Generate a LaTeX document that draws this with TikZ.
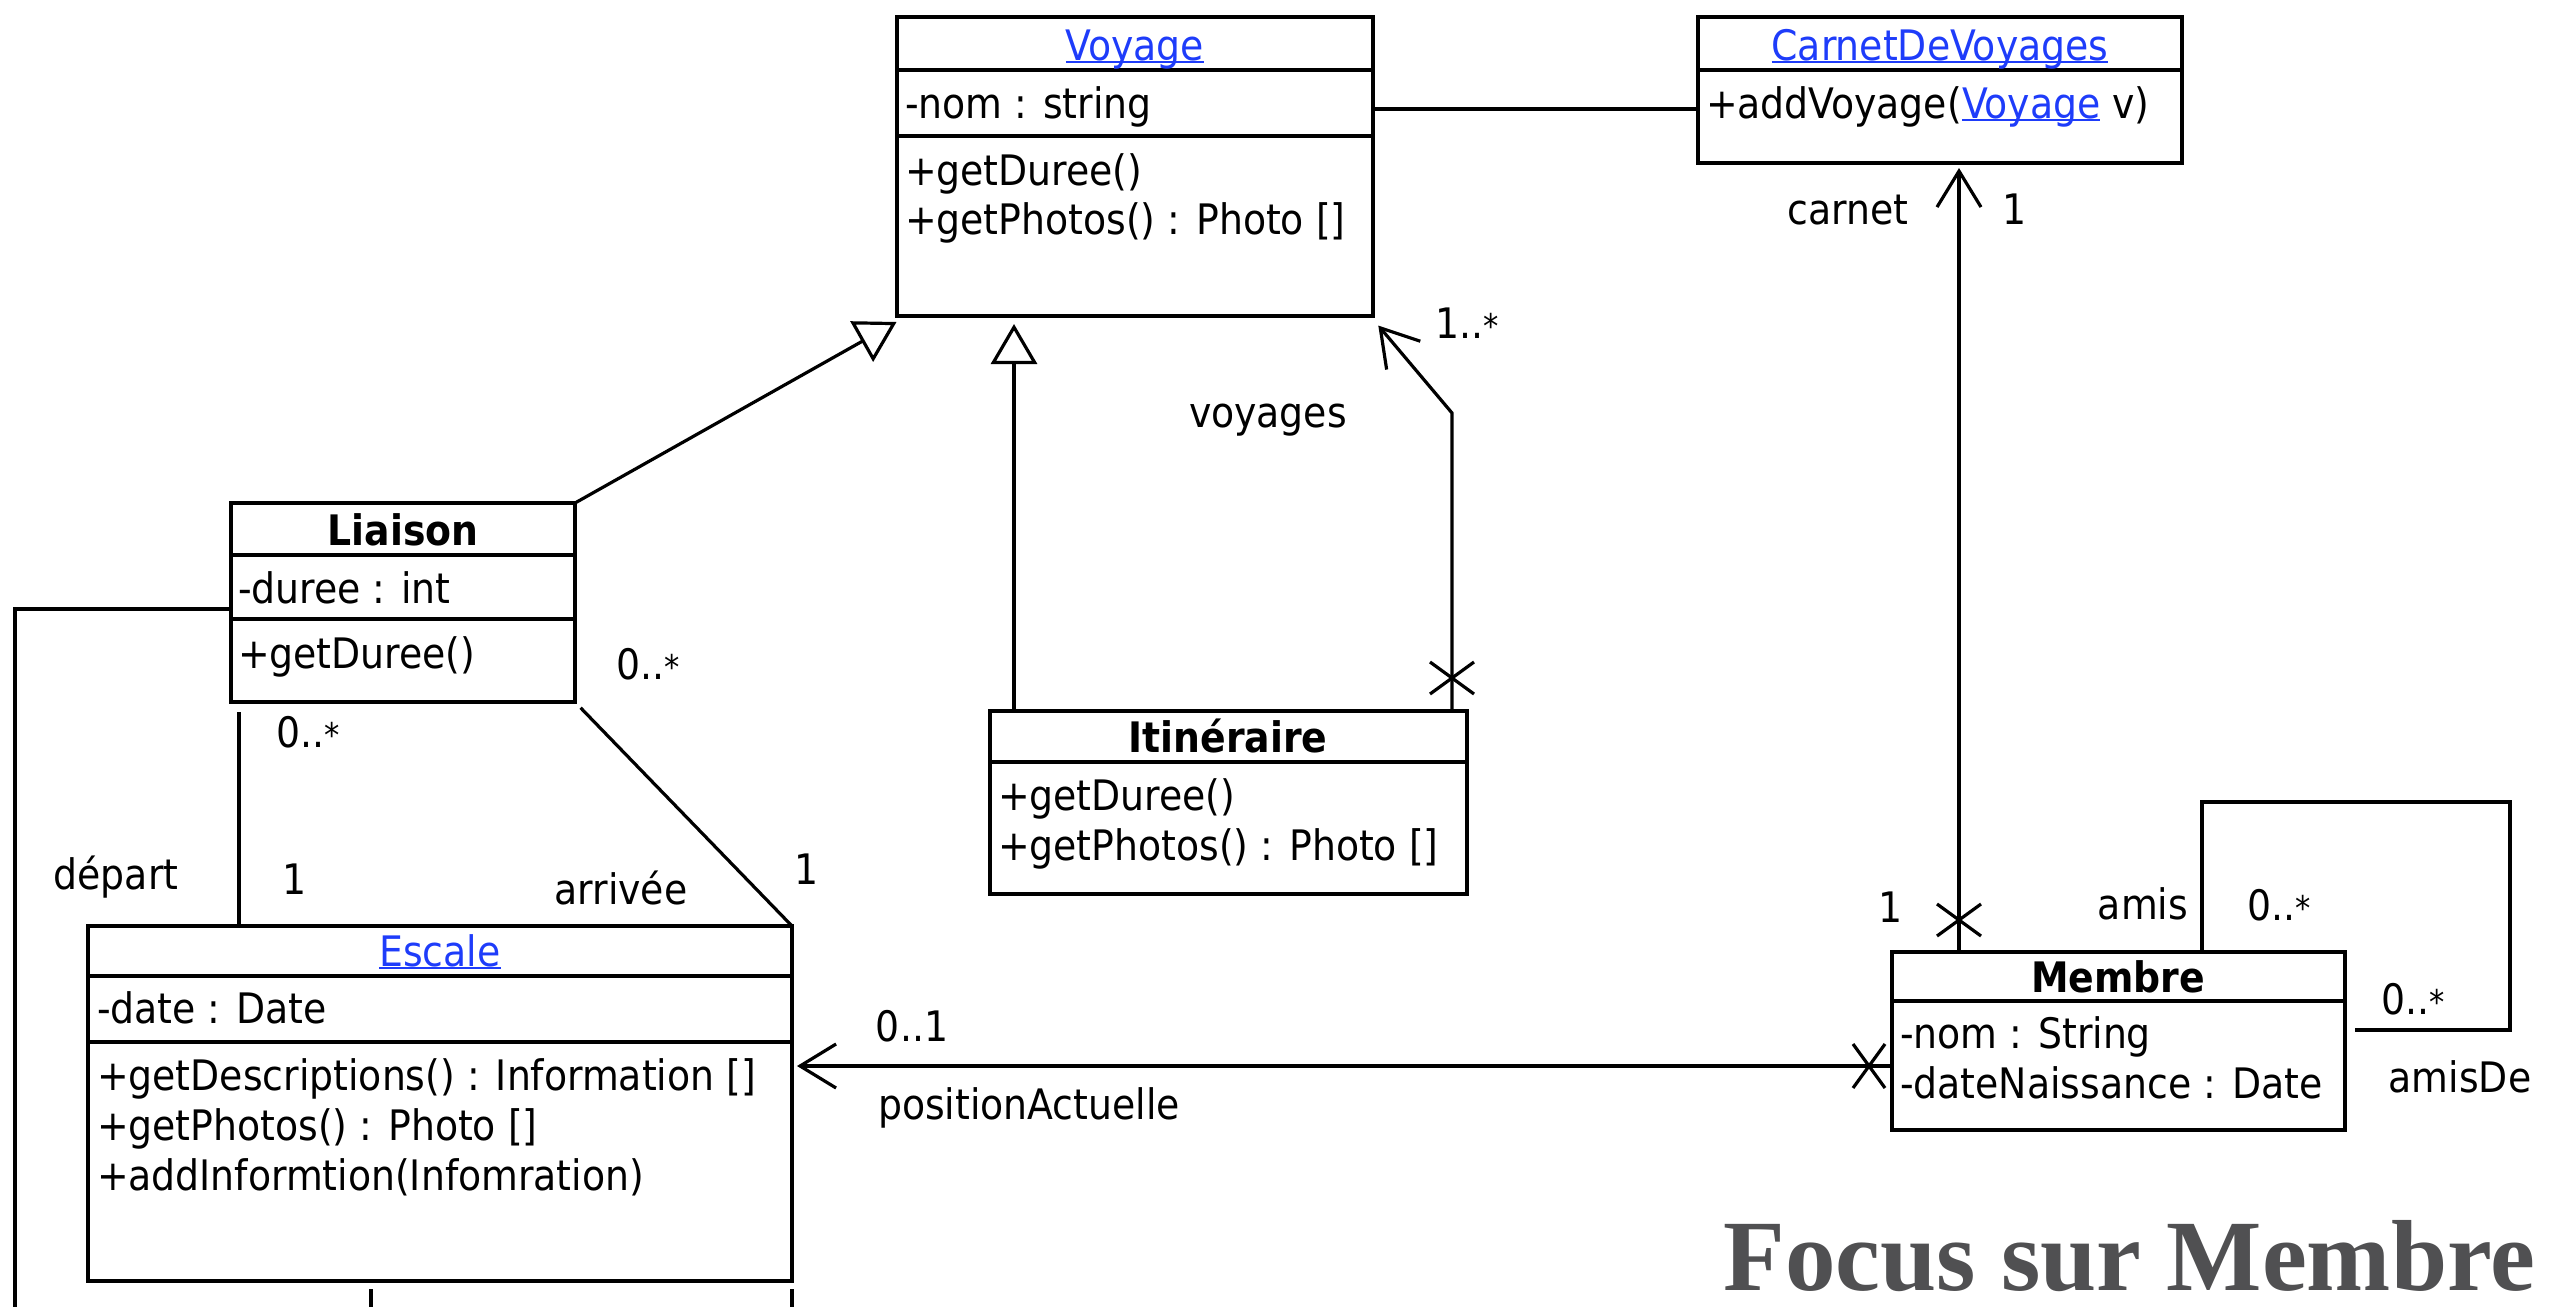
\documentclass[tikz,border=0pt]{standalone}
\usepackage{fontspec}
\setmainfont{DejaVu Sans Condensed}
\newfontfamily\titlefont{Liberation Serif}
\usetikzlibrary{arrows.meta,calc}
\definecolor{linkblue}{RGB}{30,60,250}
\definecolor{titlegray}{RGB}{80,80,82}
\newcommand{\mst}{{\fontsize{34}{34}\selectfont *}}
\newcommand{\lnk}[1]{\textcolor{linkblue}{\setbox0\hbox{#1}\rlap{\rule[-3.2pt]{\wd0}{2.4pt}}\box0}}
\begin{document}
\begin{tikzpicture}[x=1pt,y=-1pt,
  every node/.style={inner sep=0pt, outer sep=0pt},
  txt/.style={font=\fontsize{42}{48}\selectfont, anchor=base west},
  ttl/.style={font=\fontsize{42}{48}\selectfont\bfseries, anchor=base},
  lttl/.style={font=\fontsize{42}{48}\selectfont, anchor=base},
  lbl/.style={font=\fontsize{42}{48}\selectfont, anchor=base},
  classbox/.style={draw, line width=3.4pt, anchor=north west},
  sep/.style={line width=3.4pt},
  assoc/.style={line width=3.2pt},
  gen/.style={assoc, -{Triangle[open, length=40pt, width=46pt, fill=white]}},
  nav/.style={assoc, -{Straight Barb[length=36pt, width=44pt]}},
]
\useasboundingbox (0,0) rectangle (2553,1307);

% ---------- Voyage
\node[classbox, minimum width=476pt, minimum height=299pt] (voyage) at (897,17) {};
\draw[sep] (voyage.west |- 0,70) -- (voyage.east |- 0,70);
\draw[sep] (voyage.west |- 0,136) -- (voyage.east |- 0,136);
\node[lttl] (voyageT) at (1135,60) {\lnk{Voyage}};
\node[txt] (voyageA) at (905,118) {-nom : string};
\node[txt] (voyageM1) at (905,185) {+getDuree()};
\node[txt] (voyageM2) at (905,234) {+getPhotos() : Photo []};

% ---------- CarnetDeVoyages
\node[classbox, minimum width=484pt, minimum height=146pt] (carnet) at (1698,17) {};
\draw[sep] (carnet.west |- 0,70) -- (carnet.east |- 0,70);
\node[lttl] (carnetT) at (1940,60) {\lnk{CarnetDeVoyages}};
\node[txt] (carnetM) at (1706,118) {+addVoyage(\lnk{Voyage} v)};

% ---------- Liaison
\node[classbox, minimum width=344pt, minimum height=199pt] (liaison) at (231,503) {};
\draw[sep] (liaison.west |- 0,555) -- (liaison.east |- 0,555);
\node[ttl] (liaisonT) at (403,545) {Liaison};
\draw[sep] (liaison.west |- 0,619) -- (liaison.east |- 0,619);
\node[txt] (liaisonA) at (238,603) {-duree : int};
\node[txt] (liaisonM) at (238,668) {+getDuree()};

% ---------- Itineraire
\node[classbox, minimum width=477pt, minimum height=183pt] (itin) at (990,711) {};
\draw[sep] (itin.west |- 0,762) -- (itin.east |- 0,762);
\node[ttl] (itinT) at (1228,752) {Itinéraire};
\node[txt] (itinM1) at (998,810) {+getDuree()};
\node[txt] (itinM2) at (998,860) {+getPhotos() : Photo []};

% ---------- Escale
\node[classbox, minimum width=704pt, minimum height=355pt] (escale) at (88,926) {};
\draw[sep] (escale.west |- 0,976) -- (escale.east |- 0,976);
\draw[sep] (escale.west |- 0,1042) -- (escale.east |- 0,1042);
\node[lttl] (escaleT) at (440,966) {\lnk{Escale}};
\node[txt] (escaleA) at (97,1023) {-date : Date};
\node[txt] (escaleM1) at (97,1090) {+getDescriptions() : Information []};
\node[txt] (escaleM2) at (97,1140) {+getPhotos() : Photo []};
\node[txt] (escaleM3) at (97,1190) {+addInformtion(Infomration)};

% ---------- Membre
\node[classbox, minimum width=453pt, minimum height=178pt] (membre) at (1892,952) {};
\draw[sep] (membre.west |- 0,1001) -- (membre.east |- 0,1001);
\node[ttl] (membreT) at (2118,992) {Membre};
\node[txt] (membreA1) at (1900,1048) {-nom : String};
\node[txt] (membreA2) at (1900,1098) {-dateNaissance : Date};

% ---------- free ends
\coordinate (offL) at (15,1307);
\coordinate (offB1) at (371,1307);
\coordinate (offB2) at (792,1307);

% ---------- connectors
\draw[assoc] (voyage.east |- 0,109) -- (carnet.west |- 0,109);

\draw[nav, shorten >=5pt] (membre.north -| 1959,0) -- (carnet.south -| 1959,0);
\coordinate (x1) at (1959,920);
\draw[assoc] (x1) ++(-22,-16) -- ++(44,32);
\draw[assoc] (x1) ++(-22,16) -- ++(44,-32);

\draw[nav, shorten >=2pt] (itin.north -| 1452,0) -- (1452,413) -- ($(voyage.south east)+(4,8)$);
\coordinate (x2) at (1452,678);
\draw[assoc] (x2) ++(-22,-16) -- ++(44,32);
\draw[assoc] (x2) ++(-22,16) -- ++(44,-32);

\draw[gen, shorten >=4pt] (liaison.north east) -- ($(voyage.south west)+(3,4)$);
\draw[gen, shorten >=8pt] (itin.north -| 1014,0) -- (voyage.south -| 1014,0);

\draw[assoc, shorten <=10pt] (liaison.south -| 239,0) -- (escale.north -| 239,0);
\draw[assoc, shorten <=8pt] (liaison.south east) -- (escale.north east);
\draw[assoc] (liaison.west |- 0,609) -| (offL);
\draw[assoc, shorten <=8pt] (escale.south -| offB1) -- (offB1);
\draw[assoc, shorten <=8pt] (escale.south east) -- (offB2);

\draw[nav, shorten >=5pt] (membre.west |- 0,1066) -- (escale.east |- 0,1066);
\coordinate (x3) at (1869,1066);
\draw[assoc] (x3) ++(-16,-22) -- ++(32,44);
\draw[assoc] (x3) ++(16,-22) -- ++(-32,44);

\draw[assoc, shorten >=10pt] (membre.north -| 2202,0) |- (2510,802) |- (membre.east |- 0,1030);

% ---------- labels
\node[lbl] (lCarnet) at (1848,224) {carnet};
\node[lbl] (lCarnet1) at (2014,224) {1};
\node[lbl] (lMembre1) at (1890,922) {1};
\node[lbl] (lVoyMult) at (1467,338) {1..\mst};
\node[lbl] (lVoyages) at (1268,427) {voyages};
\node[lbl] (lDepMult) at (308,747) {0..\mst};
\node[lbl] (lDepart) at (116,889) {départ};
\node[lbl] (lDep1) at (295,894) {1};
\node[lbl] (lArrMult) at (648,679) {0..\mst};
\node[lbl] (lArr1) at (807,884) {1};
\node[lbl] (lArrivee) at (621,904) {arrivée};
\node[lbl] (lPosMult) at (912,1041) {0..1};
\node[lbl] (lPos) at (1029,1119) {positionActuelle};
\node[lbl] (lAmis) at (2143,919) {amis};
\node[lbl] (lAmisMult) at (2279,920) {0..\mst};
\node[lbl] (lAmisDeMult) at (2413,1014) {0..\mst};
\node[lbl] (lAmisDe) at (2460,1092) {amisDe};

% ---------- title
\node[font=\titlefont\fontsize{101}{101}\bfseries\selectfont, text=titlegray, anchor=base east] (title) at (2535,1290) {Focus sur Membre};
\end{tikzpicture}
\end{document}
